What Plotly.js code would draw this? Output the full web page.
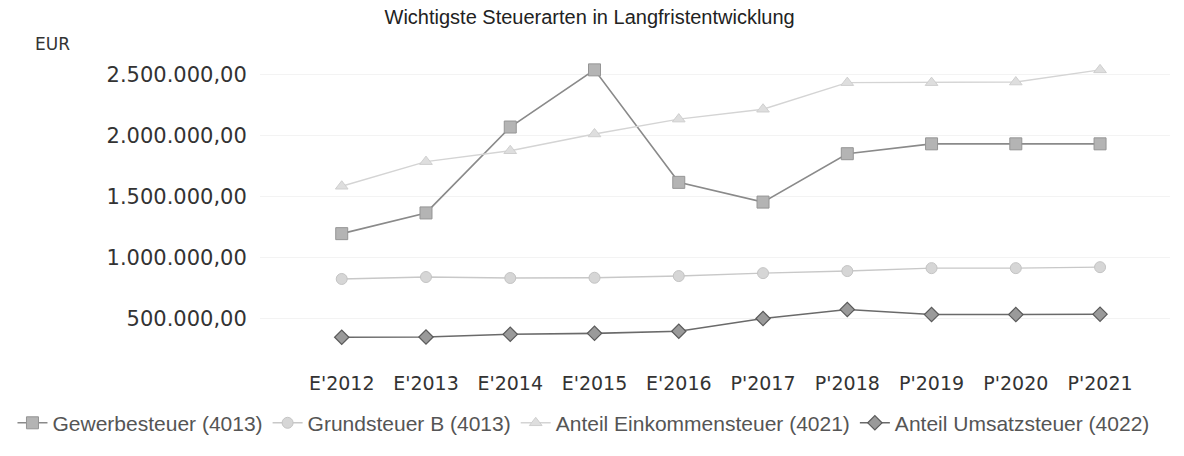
<!DOCTYPE html>
<html>
<head>
<meta charset="utf-8">
<script src="https://cdn.plot.ly/plotly-3.0.1.min.js"></script>
<style>html,body{margin:0;padding:0;background:#fff;}#chart{width:1184px;height:456px;}</style>
</head>
<body>
<div id="chart"></div>
<script>
const categories = ["E'2012","E'2013","E'2014","E'2015","E'2016","P'2017","P'2018","P'2019","P'2020","P'2021"];
const gewerbesteuer = [1196000, 1366000, 2071000, 2540000, 1617000, 1455000, 1852000, 1933000, 1933000, 1933000];
const grundsteuerB = [824000, 840000, 832000, 834000, 848000, 872000, 889000, 913000, 913000, 921000];
const einkommensteuer = [1585000, 1787000, 1876000, 2014000, 2136000, 2217000, 2435000, 2435000, 2440000, 2540000];
const umsatzsteuer = [346000, 348000, 370000, 378000, 395000, 500000, 573000, 532000, 532000, 535000];
const seriesNames = ["Gewerbesteuer (4013)", "Grundsteuer B (4013)", "Anteil Einkommensteuer (4021)", "Anteil Umsatzsteuer (4022)"];
const yTicks = [500000, 1000000, 1500000, 2000000, 2500000];

const traces = [
  {x: categories, y: gewerbesteuer, name: seriesNames[0], type: 'scatter', mode: 'lines+markers',
   line: {color: '#8a8a8a', width: 1.6},
   marker: {symbol: 'square', size: 12, color: '#b4b4b4', line: {color: '#959595', width: 1}}},
  {x: categories, y: grundsteuerB, name: seriesNames[1], type: 'scatter', mode: 'lines+markers',
   line: {color: '#c8c8c8', width: 1.4},
   marker: {symbol: 'circle', size: 11, color: '#d6d6d6', line: {color: '#c4c4c4', width: 1}}},
  {x: categories, y: einkommensteuer, name: seriesNames[2], type: 'scatter', mode: 'lines+markers',
   line: {color: '#d4d4d4', width: 1.4},
   marker: {symbol: 'triangle-up', size: 11, color: '#dedede', line: {color: '#cfcfcf', width: 1}}},
  {x: categories, y: umsatzsteuer, name: seriesNames[3], type: 'scatter', mode: 'lines+markers',
   line: {color: '#6a6a6a', width: 1.6},
   marker: {symbol: 'diamond', size: 11, color: '#9a9a9a', line: {color: '#5a5a5a', width: 1.2}}}
];

const layout = {
  width: 1184, height: 456,
  margin: {l: 258, r: 14, t: 55, b: 96},
  paper_bgcolor: '#fff', plot_bgcolor: '#fff',
  separators: ',.',
  showlegend: true,
  title: {text: 'Wichtigste Steuerarten in Langfristentwicklung', x: 0.498, xanchor: 'center', y: 0.962, yanchor: 'middle',
          font: {family: 'Liberation Sans, Arial, sans-serif', size: 20, color: '#222'}},
  xaxis: {type: 'category', range: [-0.97, 9.83], showgrid: false, zeroline: false, showline: false,
          ticks: 'outside', ticklen: 10, tickcolor: 'rgba(0,0,0,0)',
          tickfont: {family: 'DejaVu Sans, Verdana, sans-serif', size: 19, color: '#333'}},
  yaxis: {range: [192000, 2662000], tickvals: yTicks, tickformat: ',.2f',
          showgrid: true, gridcolor: '#f3f3f3', gridwidth: 1, zeroline: false, showline: false,
          ticks: 'outside', ticklen: 8, tickcolor: 'rgba(0,0,0,0)',
          tickfont: {family: 'DejaVu Sans, Verdana, sans-serif', size: 21, color: '#333'}},
  legend: {orientation: 'h', x: -0.272, xanchor: 'left', y: -0.155, yanchor: 'top',
           font: {family: 'Liberation Sans, Arial, sans-serif', size: 21, color: '#555'},
           bgcolor: 'rgba(0,0,0,0)'},
  annotations: [{text: 'EUR', xref: 'paper', yref: 'paper', x: -0.249, y: 1.035, xanchor: 'left', yanchor: 'middle',
                 showarrow: false, font: {family: 'DejaVu Sans, Verdana, sans-serif', size: 17, color: '#333'}}]
};

Plotly.newPlot('chart', traces, layout, {displayModeBar: false, staticPlot: true});
</script>
</body>
</html>
